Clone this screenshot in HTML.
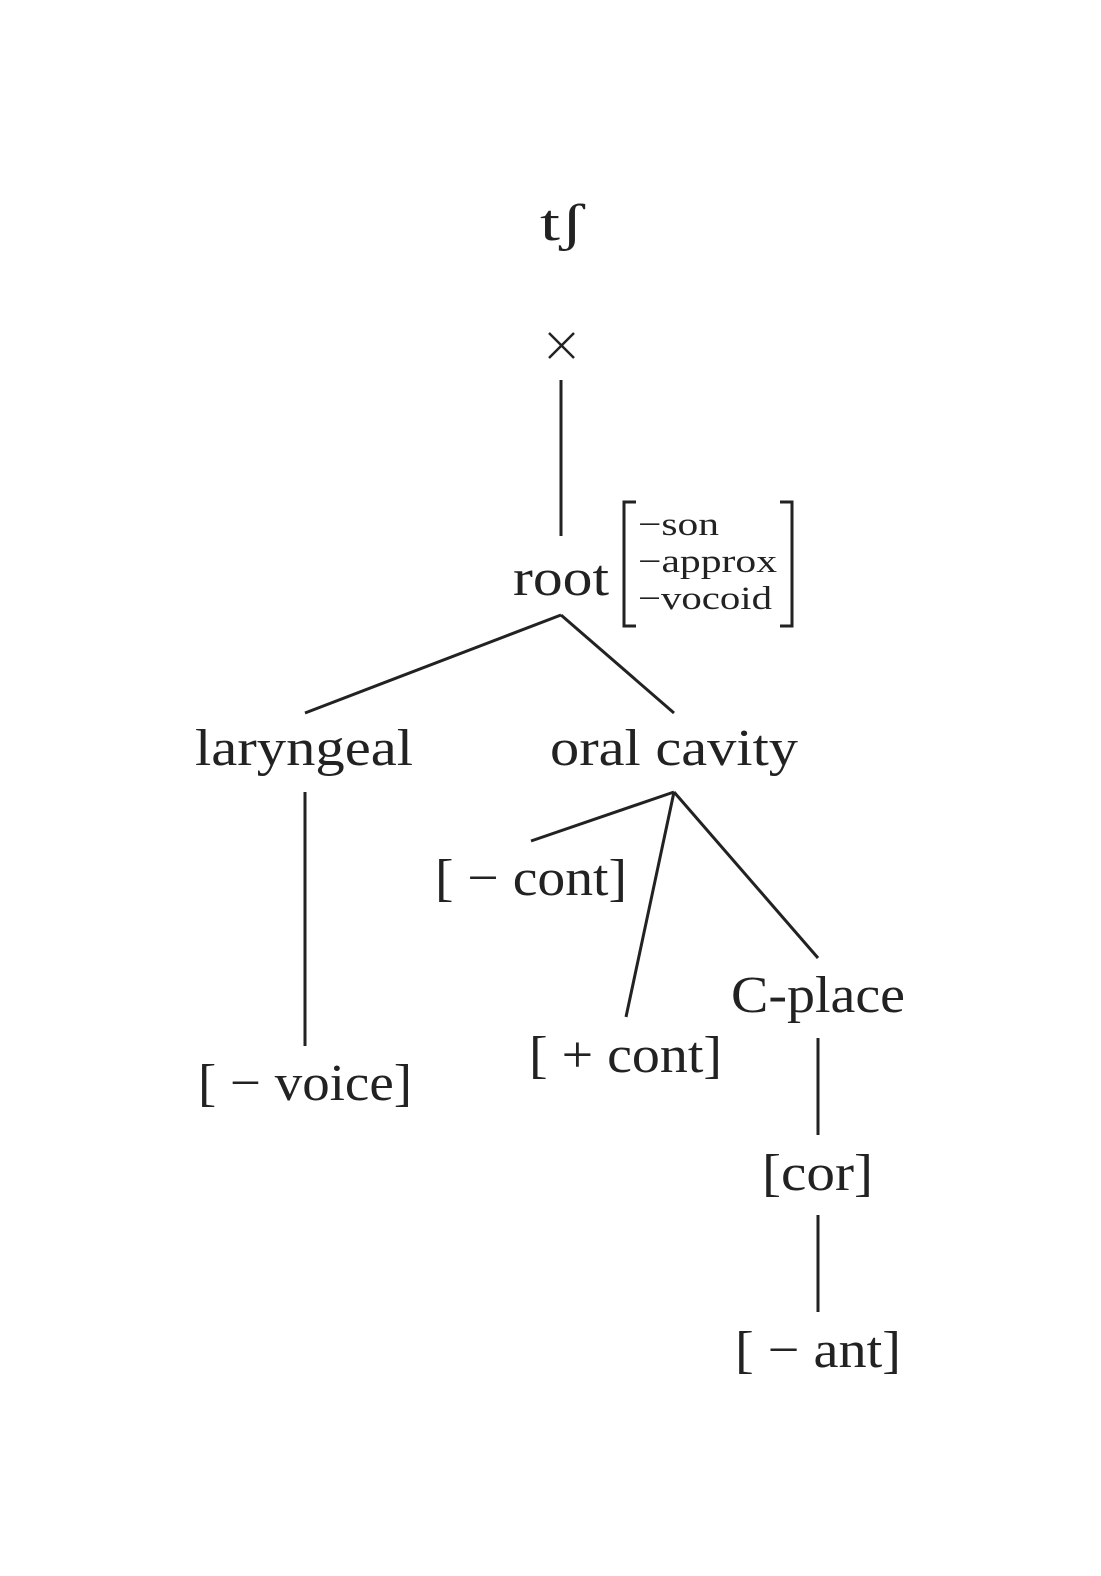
<!DOCTYPE html>
<html><head><meta charset="utf-8"><style>html,body{margin:0;padding:0;background:#fff}</style></head>
<body>
<svg width="1101" height="1571" xmlns="http://www.w3.org/2000/svg" font-family="'Liberation Serif', serif" fill="#222">
<rect width="1101" height="1571" fill="#fff"/>
<g stroke="#222" stroke-width="3" fill="none">
<line x1="561" y1="380" x2="561" y2="536"/>
<line x1="561" y1="615" x2="305" y2="713"/>
<line x1="561" y1="615" x2="674" y2="713"/>
<line x1="305" y1="792" x2="305" y2="1046"/>
<line x1="674" y1="792" x2="531" y2="841"/>
<line x1="674" y1="792" x2="626" y2="1017"/>
<line x1="674" y1="792" x2="818" y2="958"/>
<line x1="818" y1="1038" x2="818" y2="1135"/>
<line x1="818" y1="1215" x2="818" y2="1312"/>
<polyline points="636,502 624,502 624,626 636,626"/>
<polyline points="780,502 792,502 792,626 780,626"/>
<line x1="549" y1="333" x2="574" y2="358" stroke-width="2.5"/>
<line x1="574" y1="333" x2="549" y2="358" stroke-width="2.5"/>
</g>
<g font-size="52">
<text x="540" y="240" textLength="44" lengthAdjust="spacingAndGlyphs">tʃ</text>
<text x="513" y="595" textLength="96" lengthAdjust="spacingAndGlyphs">root</text>
<text x="195" y="765" textLength="218" lengthAdjust="spacingAndGlyphs">laryngeal</text>
<text x="550" y="765" textLength="248" lengthAdjust="spacingAndGlyphs">oral cavity</text>
<text x="435" y="895" textLength="192" lengthAdjust="spacingAndGlyphs">[ − cont]</text>
<text x="529" y="1072" textLength="193" lengthAdjust="spacingAndGlyphs">[ + cont]</text>
<text x="731" y="1012" textLength="174" lengthAdjust="spacingAndGlyphs">C-place</text>
<text x="198" y="1100" textLength="214" lengthAdjust="spacingAndGlyphs">[ − voice]</text>
<text x="762" y="1190" textLength="111" lengthAdjust="spacingAndGlyphs">[cor]</text>
<text x="735" y="1367" textLength="166" lengthAdjust="spacingAndGlyphs">[ − ant]</text>
</g>
<g font-size="33">
<text x="638" y="535" textLength="81" lengthAdjust="spacingAndGlyphs">−son</text>
<text x="638" y="572" textLength="139" lengthAdjust="spacingAndGlyphs">−approx</text>
<text x="638" y="609" textLength="134" lengthAdjust="spacingAndGlyphs">−vocoid</text>
</g>
</svg>
</body></html>
